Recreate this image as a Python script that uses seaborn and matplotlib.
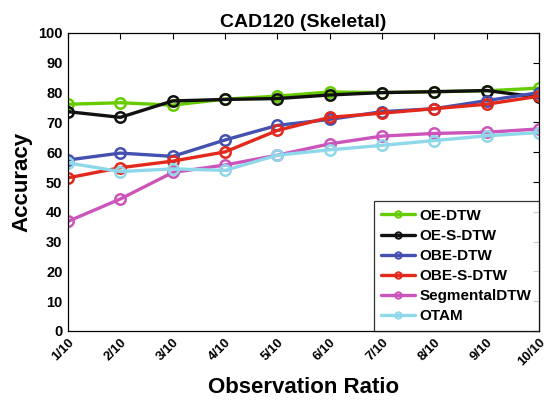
import matplotlib
matplotlib.use("Agg")
import matplotlib.pyplot as plt
import matplotlib.transforms as mtrans
import seaborn as sns
import pandas as pd

ratios = ["1/10", "2/10", "3/10", "4/10", "5/10", "6/10", "7/10", "8/10", "9/10", "10/10"]
oe_dtw = [76.1, 76.6, 75.8, 77.8, 78.8, 80.2, 80.0, 80.3, 80.6, 81.5]
oe_s_dtw = [73.6, 71.7, 77.2, 77.7, 78.0, 79.2, 80.0, 80.3, 80.7, 78.4]
obe_dtw = [57.4, 59.7, 58.6, 64.1, 69.0, 71.0, 73.6, 74.6, 77.3, 80.0]
obe_s_dtw = [51.4, 54.8, 57.0, 60.1, 67.3, 71.7, 73.1, 74.6, 76.1, 78.8]
segmental = [36.8, 44.3, 53.2, 55.7, 59.0, 62.8, 65.4, 66.3, 66.7, 67.8]
otam = [56.4, 53.5, 54.4, 53.9, 59.0, 60.8, 62.3, 63.9, 65.5, 66.6]

methods = ["OE-DTW", "OE-S-DTW", "OBE-DTW", "OBE-S-DTW", "SegmentalDTW", "OTAM"]
series = [oe_dtw, oe_s_dtw, obe_dtw, obe_s_dtw, segmental, otam]
colors = ["#66CC00", "#111111", "#4451B0", "#E2291B", "#CC55BB", "#8ED8EA"]

rows = []
for m, vals in zip(methods, series):
    for i, v in enumerate(vals):
        rows.append({"x": i, "Accuracy": v, "Method": m})
df = pd.DataFrame(rows)

sns.set_style("white")
plt.rcParams["font.family"] = ["Liberation Sans", "DejaVu Sans"]
plt.rcParams["font.weight"] = "bold"
plt.rcParams["text.color"] = "black"
plt.rcParams["axes.labelcolor"] = "black"
plt.rcParams["xtick.color"] = "black"
plt.rcParams["ytick.color"] = "black"

fig = plt.figure(figsize=(5.47, 4.07), dpi=100)
ax = fig.add_axes([68/547, (407-331)/407, (539-68)/547, (331-33)/407])

sns.lineplot(data=df, x="x", y="Accuracy", hue="Method", hue_order=methods,
             palette=colors, marker="o", markersize=7.5, markerfacecolor="none",
             markeredgewidth=1.8, linewidth=2.4, dashes=False, ax=ax, legend=False)
for line, c in zip(ax.lines, colors):
    line.set_markeredgecolor(c)
    line.set_markerfacecolor("none")

ax.set_xlim(0, 9)
ax.set_ylim(0, 100)
ax.set_yticks(range(0, 101, 10))
ax.set_xticks(range(10))
ax.set_xticklabels(ratios, rotation=45, ha="right", va="top", rotation_mode="anchor",
                   fontsize=9.5, fontweight="bold")
offset = mtrans.ScaledTranslation(-4/100, 0, fig.dpi_scale_trans)
for lbl in ax.get_xticklabels():
    lbl.set_transform(lbl.get_transform() + offset)
ax.set_yticklabels([str(v) for v in range(0, 101, 10)], fontsize=10.5, fontweight="bold")
ax.tick_params(direction="in", length=4, top=True, right=True, width=0.8, pad=4,
               colors="black")
for s in ax.spines.values():
    s.set_visible(True)
    s.set_color("black")
    s.set_linewidth(0.9)

ax.set_title("CAD120 (Skeletal)", fontsize=14, fontweight="bold", pad=4, color="black")
ax.set_xlabel("Observation Ratio", fontsize=16, fontweight="bold", labelpad=6, color="black")
ax.set_ylabel("Accuracy", fontsize=16, fontweight="bold", labelpad=4, color="black")

from matplotlib.lines import Line2D
handles = [Line2D([0], [0], color=c, lw=2.4, marker="o", markersize=4.5,
                  markerfacecolor="none", markeredgewidth=1.5) for c in colors]
leg = ax.legend(handles, methods, loc="lower right", frameon=True,
                fancybox=False, edgecolor="black", borderaxespad=0,
                handlelength=2.2, handletextpad=0.3, labelspacing=0.4,
                borderpad=0.5, prop={"weight": "bold", "size": 11})
leg.get_frame().set_linewidth(0.9)
for t in leg.get_texts():
    t.set_color("black")

fig.savefig("out.png", dpi=100)
